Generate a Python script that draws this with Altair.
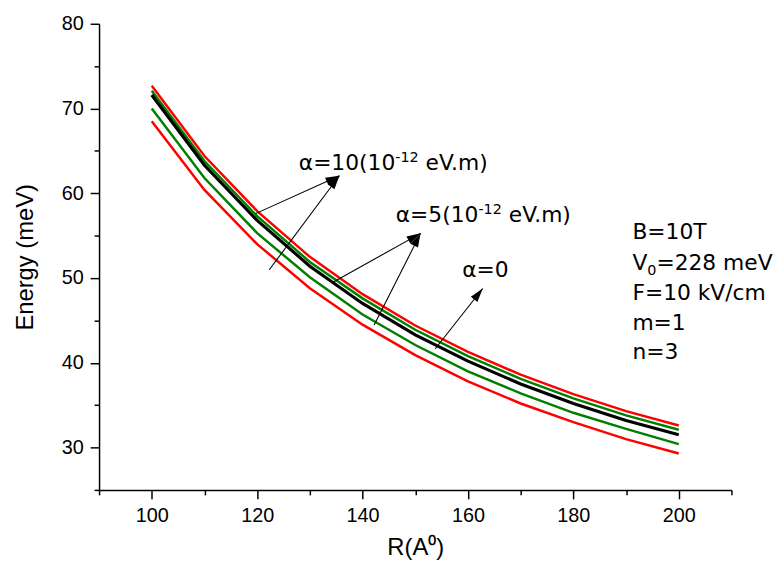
import math
import altair as alt
import pandas as pd

# ---- data ----
R = [100, 110, 120, 130, 140, 150, 160, 170, 180, 190, 200]
red_top = [72.7, 64.4, 57.9, 52.5, 48.1, 44.4, 41.3, 38.6, 36.3, 34.3, 32.6]
green_top = [72.1, 63.8, 57.3, 51.9, 47.6, 43.9, 40.8, 38.1, 35.8, 33.8, 32.1]
black_mid = [71.6, 63.3, 56.8, 51.4, 47.0, 43.3, 40.2, 37.5, 35.2, 33.2, 31.5]
green_low = [70.0, 61.8, 55.3, 50.1, 45.7, 42.1, 39.0, 36.4, 34.1, 32.2, 30.4]
red_low = [68.5, 60.4, 54.0, 48.8, 44.5, 40.9, 37.8, 35.2, 33.0, 31.0, 29.3]

series_names = ["red_low", "green_low", "green_top", "red_top"]
series_colors = ["#ff0000", "#008000", "#008000", "#ff0000"]

x_major = [100, 120, 140, 160, 180, 200]
x_minor = [90, 110, 130, 150, 170, 190, 210]
y_major = [30, 40, 50, 60, 70, 80]
y_minor = [25, 35, 45, 55, 65, 75]

# annotation labels: anchor (data coords)
a10_R, a10_E = 127.9, 62.73
a5_R, a5_E = 146.3, 56.62
a0_R, a0_E = 158.9, 50.17

# arrows: start -> tip
arr_R0 = [119.7, 122.3, 134.3, 142.2, 153.8]
arr_E0 = [57.6, 50.98, 49.47, 44.45, 41.66]
arr_R1 = [135.6, 135.6, 151.0, 151.0, 162.8]
arr_E1 = [62.07, 62.07, 55.27, 55.27, 48.77]

# parameter block
info_text = ["B=10T", "F=10 kV/cm", "m=1", "n=3"]
info_E = [54.56, 47.36, 43.9, 40.4]
info_R = 191.2
v0_E = 50.9

# ---- build tables ----
W, H = 639, 471
XD, YD = [90, 210], [25, 80]

rows = []
for name, vals in zip(series_names, [red_low, green_low, green_top, red_top]):
    for r, e in zip(R, vals):
        rows.append({"R": r, "E": e, "series": name})
df_col = pd.DataFrame(rows)
df_black = pd.DataFrame({"R": R, "E": black_mid})

px_r = W / (XD[1] - XD[0])
px_e = H / (YD[1] - YD[0])
angles = []
for r0, e0, r1, e1 in zip(arr_R0, arr_E0, arr_R1, arr_E1):
    a = math.degrees(math.atan2((r1 - r0) * px_r, (e1 - e0) * px_e)) % 360
    angles.append(a)
df_arr = pd.DataFrame({"R0": arr_R0, "E0": arr_E0, "R1": arr_R1, "E1": arr_E1, "ang": angles})
df_info = pd.DataFrame({"R": [info_R] * len(info_text), "E": info_E, "t": info_text})

xs = alt.Scale(domain=XD, nice=False, zero=False)
ys = alt.Scale(domain=YD, nice=False, zero=False)

ax_x = alt.Axis(values=x_major, tickSize=9, labelPadding=7, title="R(A⁰)",
                orient="bottom", titlePadding=10, labelFlush=False)
ax_y = alt.Axis(values=y_major, tickSize=9, labelPadding=7, title="Energy (meV)",
                orient="left", titlePadding=24)
ax_x_minor = alt.Axis(values=x_minor, tickSize=5, labels=False, domain=False,
                      title=None, orient="bottom")
ax_y_minor = alt.Axis(values=y_minor, tickSize=5, labels=False, domain=False,
                      title=None, orient="left")

FONT = "DejaVu Sans"
FS = 22
SUP = 14.5


def piece(r, e, txt, size=FS, dx=0, dy=0):
    d = pd.DataFrame({"R": [r], "E": [e], "t": [txt]})
    return alt.Chart(d).mark_text(
        align="left", baseline="alphabetic", font=FONT, fontSize=size,
        color="black", dx=dx, dy=dy
    ).encode(
        x=alt.X("R:Q", scale=xs, axis=None),
        y=alt.Y("E:Q", scale=ys, axis=None),
        text="t:N",
    )


# approximate DejaVu Sans advance widths (em)
def width(txt, size):
    adv = {"α": 0.659, "=": 0.838, "(": 0.390, ")": 0.390, " ": 0.318, "e": 0.615,
           "V": 0.684, ".": 0.318, "m": 0.974, "-": 0.361}
    return sum(adv.get(c, 0.636) for c in txt) * size


labels = []
for (r, e, head) in [(a10_R, a10_E, "α=10(10"), (a5_R, a5_E, "α=5(10")]:
    w1 = width(head, FS)
    w2 = width("-12", SUP)
    labels.append(piece(r, e, head))
    labels.append(piece(r, e, "-12", size=SUP, dx=w1, dy=-8))
    labels.append(piece(r, e, "eV.m)", dx=w1 + w2 + width(" ", FS)))
labels.append(piece(a0_R, a0_E, "α=0"))

# V0 line with subscript
wV = width("V", FS)
labels.append(piece(info_R, v0_E, "V"))
labels.append(piece(info_R, v0_E, "0", size=SUP, dx=wV, dy=5))
labels.append(piece(info_R, v0_E, "=228 meV", dx=wV + width("0", SUP)))

minor = alt.Chart(df_black).mark_line(opacity=0).encode(
    x=alt.X("R:Q", scale=xs, axis=ax_x_minor),
    y=alt.Y("E:Q", scale=ys, axis=ax_y_minor),
)

colored = alt.Chart(df_col).mark_line(strokeWidth=2.5).encode(
    x=alt.X("R:Q", scale=xs, axis=ax_x),
    y=alt.Y("E:Q", scale=ys, axis=ax_y),
    color=alt.Color("series:N", scale=alt.Scale(domain=series_names, range=series_colors), legend=None),
)

black = alt.Chart(df_black).mark_line(strokeWidth=3.2, color="black").encode(
    x=alt.X("R:Q", scale=xs, axis=None),
    y=alt.Y("E:Q", scale=ys, axis=None),
)

arrows = alt.Chart(df_arr).mark_rule(color="black", strokeWidth=1.1).encode(
    x=alt.X("R0:Q", scale=xs, axis=None),
    y=alt.Y("E0:Q", scale=ys, axis=None),
    x2="R1:Q",
    y2="E1:Q",
)

heads = alt.Chart(df_arr).mark_point(
    shape="M0,0L-0.3,1L0.3,1Z", filled=True, color="black", opacity=1, size=784, strokeWidth=0
).encode(
    x=alt.X("R1:Q", scale=xs, axis=None),
    y=alt.Y("E1:Q", scale=ys, axis=None),
    angle=alt.Angle("ang:Q", scale=None),
)

info = alt.Chart(df_info).mark_text(
    align="left", baseline="alphabetic", font=FONT, fontSize=FS, color="black"
).encode(
    x=alt.X("R:Q", scale=xs, axis=None),
    y=alt.Y("E:Q", scale=ys, axis=None),
    text="t:N",
)

chart = alt.layer(minor, colored, black, arrows, heads, info, *labels).resolve_axis(
    x="independent", y="independent"
).properties(
    width=W, height=H,
    autosize=alt.AutoSizeParams(type="none"),
    padding={"left": 92, "top": 13, "right": 45, "bottom": 81},
).configure_axis(
    domainColor="black", domainWidth=1.5, tickColor="black", tickWidth=1.5,
    labelFont="Liberation Sans", labelFontSize=20, labelColor="black",
    titleFont="Liberation Sans", titleFontSize=24, titleColor="black",
    titleFontWeight="normal", grid=False,
).configure_view(stroke=None)

chart.save("out.html", embed_options={"renderer": "svg", "actions": False})
